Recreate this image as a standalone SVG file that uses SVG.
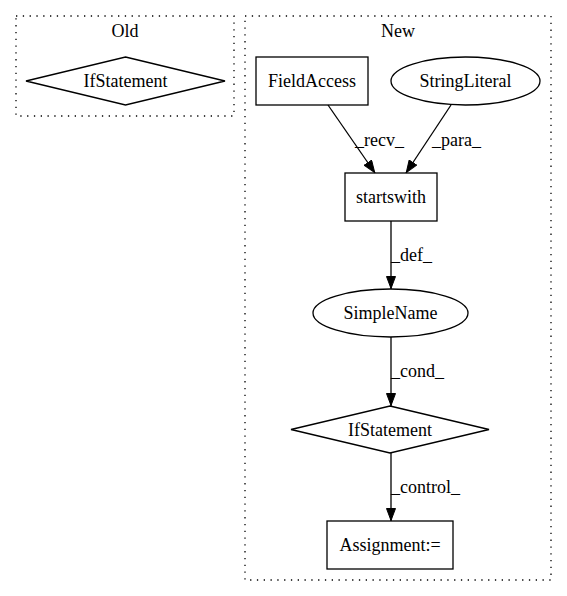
<svg xmlns="http://www.w3.org/2000/svg" width="567" height="596" viewBox="0 0 567 596">
<defs>
<style>
.cl{fill:none;stroke:#000;stroke-width:1.3;stroke-dasharray:1.3,5.5}
.n{fill:none;stroke:#000;stroke-width:1.3}
.e{fill:none;stroke:#000;stroke-width:1.3}
text{font-family:"Liberation Serif","Times New Roman",serif;font-size:18px;fill:#000}
.c{text-anchor:middle}
</style>
<marker id="ah" markerWidth="13" markerHeight="10" refX="13" refY="5" orient="auto" markerUnits="userSpaceOnUse">
<path d="M0.5,0.5 L12.5,5 L0.5,9.5 Z" fill="#000" stroke="#000" stroke-width="1"/>
</marker>
</defs>
<rect width="567" height="596" fill="#fff"/>
<g id="cluster_old">
<rect class="cl" x="16" y="16" width="218" height="100"/>
<text class="c" x="125" y="37">Old</text>
</g>
<g id="cluster_new">
<rect class="cl" x="245" y="16" width="306" height="564"/>
<text class="c" x="398" y="37">New</text>
</g>
<g id="old_ifstatement">
<polygon class="n" points="125.5,57 225,81 125.5,105 26,81"/>
<text class="c" x="125.5" y="87">IfStatement</text>
</g>
<g id="fieldaccess">
<rect class="n" x="256" y="57" width="112" height="48"/>
<text class="c" x="312" y="87">FieldAccess</text>
</g>
<g id="stringliteral">
<ellipse class="n" cx="465.5" cy="81" rx="74.5" ry="24"/>
<text class="c" x="465.5" y="87">StringLiteral</text>
</g>
<g id="startswith">
<rect class="n" x="345" y="173" width="92" height="48"/>
<text class="c" x="391" y="203">startswith</text>
</g>
<g id="simplename">
<ellipse class="n" cx="390.5" cy="313" rx="77.5" ry="24"/>
<text class="c" x="390.5" y="319">SimpleName</text>
</g>
<g id="new_ifstatement">
<polygon class="n" points="390,406 489,429.5 390,453 291,429.5"/>
<text class="c" x="390" y="435.5">IfStatement</text>
</g>
<g id="assignment">
<rect class="n" x="327" y="521" width="126" height="48"/>
<text class="c" x="390" y="551">Assignment:=</text>
</g>
<g id="connectors">
<line class="e" x1="328" y1="105" x2="375" y2="173" marker-end="url(#ah)"/>
<text x="355" y="146">_recv_</text>
<line class="e" x1="451" y1="105" x2="406" y2="173" marker-end="url(#ah)"/>
<text x="432" y="146">_para_</text>
<line class="e" x1="391" y1="221" x2="391" y2="289" marker-end="url(#ah)"/>
<text x="391" y="261">_def_</text>
<line class="e" x1="391" y1="337" x2="391" y2="406" marker-end="url(#ah)"/>
<text x="391" y="377">_cond_</text>
<line class="e" x1="391" y1="453" x2="391" y2="521" marker-end="url(#ah)"/>
<text x="391" y="493">_control_</text>
</g>
</svg>
